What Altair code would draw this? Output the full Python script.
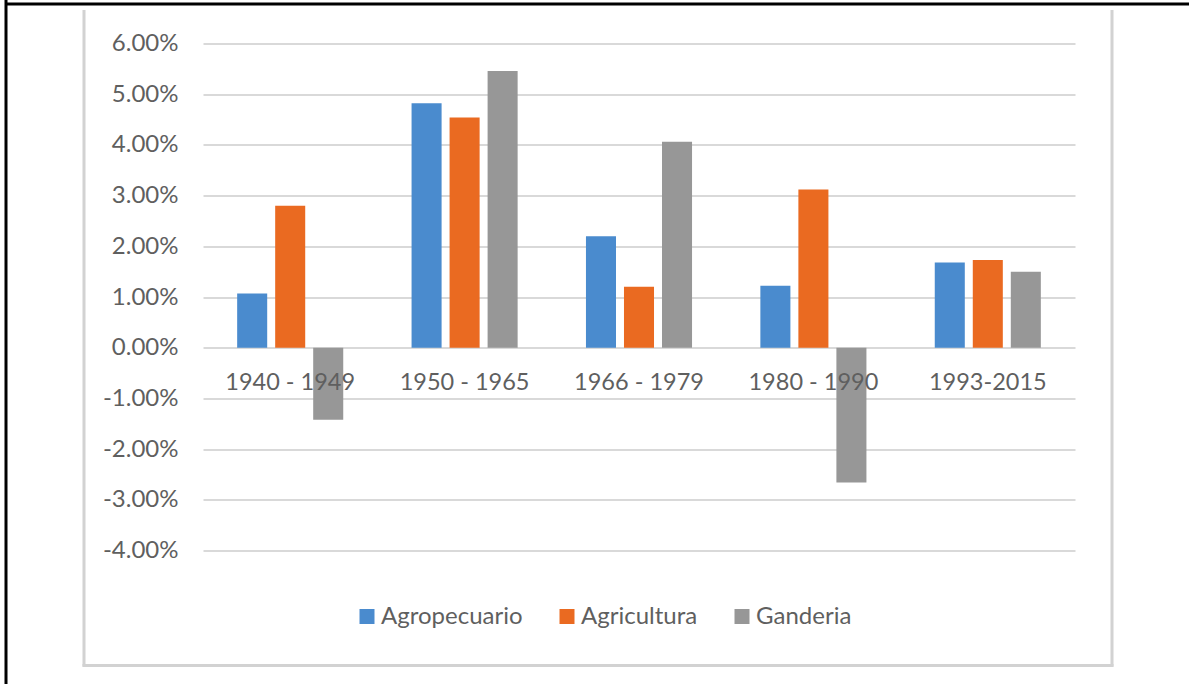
import altair as alt
import pandas as pd

periods = ["1940 - 1949", "1950 - 1965", "1966 - 1979", "1980 - 1990", "1993-2015"]
series_names = ["Agropecuario", "Agricultura", "Ganderia"]
agropecuario = [1.07, 4.82, 2.20, 1.22, 1.68]
agricultura = [2.80, 4.54, 1.20, 3.12, 1.73]
ganderia = [-1.42, 5.46, 4.06, -2.66, 1.50]
colors = ["#4A8BCE", "#EA6A21", "#979797"]
y_ticks = [-0.04, -0.03, -0.02, -0.01, 0.0, 0.01, 0.02, 0.03, 0.04, 0.05, 0.06]

rows = []
for name, vals in zip(series_names, [agropecuario, agricultura, ganderia]):
    for p, v in zip(periods, vals):
        rows.append({"period": p, "series": name, "value": v / 100})
df = pd.DataFrame(rows)

W, H = 872, 507
PL, PT = 203, 43.5
FONT = "Lato"
TXT = "#5f5f5f"

bars = alt.Chart(df).mark_bar().encode(
    x=alt.X("period:N", sort=periods,
            scale=alt.Scale(paddingInner=0.346, paddingOuter=0.173),
            axis=alt.Axis(title=None, orient="bottom", offset=-202.8, domain=False,
                          ticks=False, grid=False, labelAngle=0, labelPadding=35,
                          labelBaseline="middle", labelFontSize=23.5, labelColor=TXT,
                          labelFont=FONT, zindex=1)),
    xOffset=alt.XOffset("series:N", sort=series_names,
                        scale=alt.Scale(paddingInner=0.21, paddingOuter=0.105)),
    y=alt.Y("value:Q", scale=alt.Scale(domain=[-0.04, 0.06], nice=False, zero=False),
            axis=alt.Axis(title=None, format=".2%", values=y_ticks, domain=False,
                          labelExpr="replace(datum.label, '\u2212', '-')",
                          ticks=False, labelPadding=25, gridColor="#d9d9d9", gridWidth=2,
                          labelFontSize=24, labelColor=TXT, labelFont=FONT)),
    color=alt.Color("series:N", sort=series_names,
                    scale=alt.Scale(domain=series_names, range=colors),
                    legend=alt.Legend(title=None, orient="none", direction="horizontal",
                                      legendX=152, legendY=561, symbolType="square",
                                      symbolSize=225, symbolStrokeWidth=0,
                                      labelFontSize=24, labelColor=TXT,
                                      labelFont=FONT, labelOffset=2, columnPadding=32,
                                      padding=0)),
)

deco = pd.DataFrame({"k": [0]})
black_left = alt.Chart(deco).mark_rule(color="black", strokeWidth=3).encode(
    x=alt.value(6 - PL), y=alt.value(0 - PT), y2=alt.value(684 - PT))
black_top = alt.Chart(deco).mark_rule(color="black", strokeWidth=3).encode(
    x=alt.value(5 - PL), x2=alt.value(1189 - PL), y=alt.value(4 - PT))
box_left = alt.Chart(deco).mark_rule(color="#d2d2d2", strokeWidth=3).encode(
    x=alt.value(84 - PL), y=alt.value(10 - PT), y2=alt.value(666.5 - PT))
box_right = alt.Chart(deco).mark_rule(color="#d2d2d2", strokeWidth=3).encode(
    x=alt.value(1112 - PL), y=alt.value(10 - PT), y2=alt.value(666.5 - PT))
box_bottom = alt.Chart(deco).mark_rule(color="#d2d2d2", strokeWidth=3).encode(
    x=alt.value(82.5 - PL), x2=alt.value(1113.5 - PL), y=alt.value(665.5 - PT))

chart = alt.layer(bars, black_left, black_top, box_left, box_right, box_bottom).properties(
    width=W, height=H,
    autosize=alt.AutoSizeParams(type="none"),
    padding={"left": PL, "top": PT, "right": 1189 - PL - W, "bottom": 684 - PT - H},
    background="white",
).configure_view(stroke=None)

chart.save("out.html", embed_options={"renderer": "svg", "actions": False})
